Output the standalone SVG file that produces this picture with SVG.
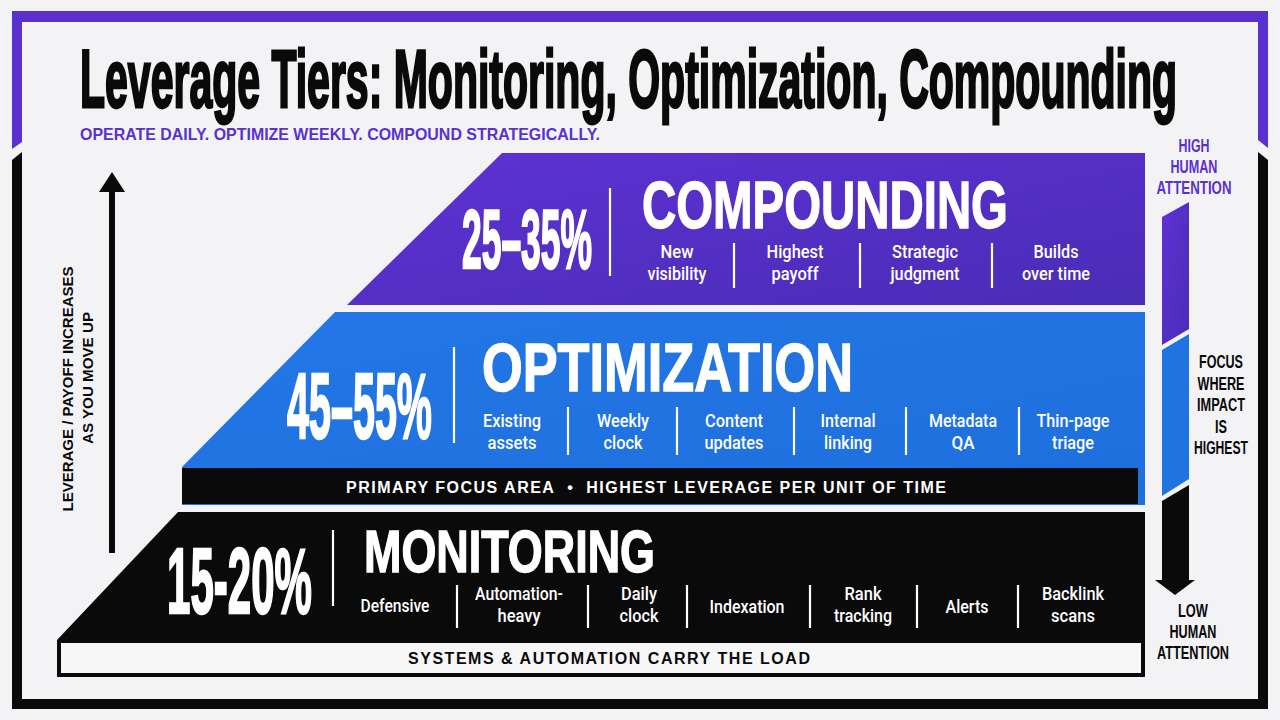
<svg xmlns="http://www.w3.org/2000/svg" width="1280" height="720" viewBox="0 0 1280 720">
  <defs>
    <linearGradient id="gPurple" x1="0" y1="0" x2="1" y2="1">
      <stop offset="0" stop-color="#5d32d4"/>
      <stop offset="1" stop-color="#4a2cb6"/>
    </linearGradient>
    <linearGradient id="gBlue" x1="0" y1="0" x2="1" y2="1">
      <stop offset="0" stop-color="#2377e6"/>
      <stop offset="1" stop-color="#1d6fdc"/>
    </linearGradient>
    <style>
      .title { font-family: "Liberation Sans", Arial, sans-serif; font-weight: 700; fill: #0a0a0a; stroke: #0a0a0a; stroke-width: 2.8; }
      .sub { font-family: "Liberation Sans", Arial, sans-serif; font-weight: 700; fill: #5a31cf; }
      .pct { font-family: "Liberation Sans", Arial, sans-serif; font-weight: 700; fill: #ffffff; stroke: #ffffff; stroke-width: 2.4; }
      .tier { font-family: "Liberation Sans", Arial, sans-serif; font-weight: 700; fill: #ffffff; stroke: #ffffff; stroke-width: 1.4; }
      .lbl { font-family: Roboto, "Liberation Sans", Arial, sans-serif; font-weight: 500; font-size: 18px; fill: #ffffff; text-anchor: middle; }
      .div { stroke: #ffffff; stroke-width: 2.2; }
      .band { font-family: "Liberation Sans", Arial, sans-serif; font-weight: 700; font-size: 16px; }
      .side { font-family: "Liberation Sans", Arial, sans-serif; font-weight: 700; font-size: 18px; text-anchor: middle; }
      .axis { font-family: "Liberation Sans", Arial, sans-serif; font-weight: 700; font-size: 15.5px; fill: #0a0a0a; text-anchor: middle; }
    </style>
  </defs>

  <rect width="1280" height="720" fill="#f3f3f5"/>

  <!-- frame -->
  <g id="frame">
    <rect x="12" y="11" width="1256" height="11" fill="#5a31cf"/>
    <polygon points="12,11 22,11 22,142 12,149" fill="#5a31cf"/>
    <polygon points="12,160 22,152 22,709 12,709" fill="#0a0a0a"/>
    <polygon points="1258,11 1268,11 1268,148 1258,140" fill="#5a31cf"/>
    <polygon points="1258,152 1268,160 1268,709 1258,709" fill="#0a0a0a"/>
    <rect x="12" y="699" width="1256" height="10" fill="#0a0a0a"/>
  </g>

  <g id="title">
    <text class="title" transform="scale(0.5,1)" x="160" y="107" font-size="82" textLength="2194" lengthAdjust="spacingAndGlyphs">Leverage Tiers: Monitoring, Optimization, Compounding</text>
    <text class="sub" x="80" y="140" font-size="16.5" textLength="520" lengthAdjust="spacingAndGlyphs">OPERATE DAILY. OPTIMIZE WEEKLY. COMPOUND STRATEGICALLY.</text>
  </g>

  <!-- Compounding tier -->
  <g id="tier-compounding">
    <polygon points="502,153 1145,153 1145,305 347,305" fill="url(#gPurple)"/>
    <text class="pct" transform="scale(0.4218,1)" x="1095.3" y="268" font-size="84" textLength="308.2" lengthAdjust="spacingAndGlyphs">25–35%</text>
    <line class="div" x1="610" y1="188" x2="610" y2="276"/>
    <text class="tier" transform="scale(0.7181,1)" x="894" y="228" font-size="66" textLength="509.7" lengthAdjust="spacingAndGlyphs">COMPOUNDING</text>
    <line class="div" x1="734" y1="243" x2="734" y2="288"/>
    <line class="div" x1="860" y1="243" x2="860" y2="288"/>
    <line class="div" x1="992" y1="243" x2="992" y2="288"/>
    <text class="lbl" x="677" y="258" textLength="33" lengthAdjust="spacingAndGlyphs">New</text>
    <text class="lbl" x="677" y="280" textLength="59" lengthAdjust="spacingAndGlyphs">visibility</text>
    <text class="lbl" x="795" y="258" textLength="57" lengthAdjust="spacingAndGlyphs">Highest</text>
    <text class="lbl" x="795" y="280" textLength="47" lengthAdjust="spacingAndGlyphs">payoff</text>
    <text class="lbl" x="925" y="258" textLength="66" lengthAdjust="spacingAndGlyphs">Strategic</text>
    <text class="lbl" x="925" y="280" textLength="69" lengthAdjust="spacingAndGlyphs">judgment</text>
    <text class="lbl" x="1056" y="258" textLength="45" lengthAdjust="spacingAndGlyphs">Builds</text>
    <text class="lbl" x="1056" y="280" textLength="68" lengthAdjust="spacingAndGlyphs">over time</text>
  </g>

  <!-- Optimization tier -->
  <g id="tier-optimization">
    <polygon points="335,312 1145,312 1145,505 182,505 182,467" fill="url(#gBlue)"/>
    <text class="pct" transform="scale(0.4296,1)" x="668.1" y="438" font-size="92" textLength="337.5" lengthAdjust="spacingAndGlyphs">45–55%</text>
    <line class="div" x1="454" y1="347" x2="454" y2="443"/>
    <text class="tier" transform="scale(0.7612,1)" x="633.2" y="391" font-size="68" textLength="487.4" lengthAdjust="spacingAndGlyphs">OPTIMIZATION</text>
    <line class="div" x1="568" y1="407" x2="568" y2="455"/>
    <line class="div" x1="677" y1="407" x2="677" y2="455"/>
    <line class="div" x1="794" y1="407" x2="794" y2="455"/>
    <line class="div" x1="906" y1="407" x2="906" y2="455"/>
    <line class="div" x1="1019" y1="407" x2="1019" y2="455"/>
    <text class="lbl" x="512" y="427" textLength="58" lengthAdjust="spacingAndGlyphs">Existing</text>
    <text class="lbl" x="512" y="449" textLength="49" lengthAdjust="spacingAndGlyphs">assets</text>
    <text class="lbl" x="623" y="427" textLength="52" lengthAdjust="spacingAndGlyphs">Weekly</text>
    <text class="lbl" x="623" y="449" textLength="39" lengthAdjust="spacingAndGlyphs">clock</text>
    <text class="lbl" x="734" y="427" textLength="58" lengthAdjust="spacingAndGlyphs">Content</text>
    <text class="lbl" x="734" y="449" textLength="59" lengthAdjust="spacingAndGlyphs">updates</text>
    <text class="lbl" x="848" y="427" textLength="55" lengthAdjust="spacingAndGlyphs">Internal</text>
    <text class="lbl" x="848" y="449" textLength="48" lengthAdjust="spacingAndGlyphs">linking</text>
    <text class="lbl" x="963" y="427" textLength="68" lengthAdjust="spacingAndGlyphs">Metadata</text>
    <text class="lbl" x="963" y="449" textLength="23" lengthAdjust="spacingAndGlyphs">QA</text>
    <text class="lbl" x="1073" y="427" textLength="73" lengthAdjust="spacingAndGlyphs">Thin-page</text>
    <text class="lbl" x="1073" y="449" textLength="42" lengthAdjust="spacingAndGlyphs">triage</text>
    <rect x="182" y="468" width="956" height="36" fill="#0a0a0a"/>
    <text class="band" x="346" y="493" fill="#ffffff" textLength="600">PRIMARY FOCUS AREA&#160;&#160;•&#160;&#160;HIGHEST LEVERAGE PER UNIT OF TIME</text>
  </g>

  <!-- Monitoring tier -->
  <g id="tier-monitoring">
    <polygon points="178,512 1145,512 1145,677 57,677 57,640" fill="#0a0a0a"/>
    <text class="pct" transform="scale(0.4574,1)" x="365.1" y="613" font-size="92" textLength="317" lengthAdjust="spacingAndGlyphs">15-20%</text>
    <line class="div" x1="333" y1="530" x2="333" y2="606"/>
    <text class="tier" transform="scale(0.7588,1)" x="479.7" y="572" font-size="59" textLength="383.5" lengthAdjust="spacingAndGlyphs">MONITORING</text>
    <line class="div" x1="457" y1="585" x2="457" y2="628"/>
    <line class="div" x1="588" y1="585" x2="588" y2="628"/>
    <line class="div" x1="687" y1="585" x2="687" y2="628"/>
    <line class="div" x1="810" y1="585" x2="810" y2="628"/>
    <line class="div" x1="917" y1="585" x2="917" y2="628"/>
    <line class="div" x1="1018" y1="585" x2="1018" y2="628"/>
    <text class="lbl" x="395" y="612" textLength="69" lengthAdjust="spacingAndGlyphs">Defensive</text>
    <text class="lbl" x="519" y="600" textLength="88" lengthAdjust="spacingAndGlyphs">Automation-</text>
    <text class="lbl" x="519" y="622" textLength="43" lengthAdjust="spacingAndGlyphs">heavy</text>
    <text class="lbl" x="639" y="600" textLength="36" lengthAdjust="spacingAndGlyphs">Daily</text>
    <text class="lbl" x="639" y="622" textLength="39" lengthAdjust="spacingAndGlyphs">clock</text>
    <text class="lbl" x="747" y="613" textLength="75" lengthAdjust="spacingAndGlyphs">Indexation</text>
    <text class="lbl" x="863" y="600" textLength="37" lengthAdjust="spacingAndGlyphs">Rank</text>
    <text class="lbl" x="863" y="622" textLength="58" lengthAdjust="spacingAndGlyphs">tracking</text>
    <text class="lbl" x="967" y="613" textLength="43" lengthAdjust="spacingAndGlyphs">Alerts</text>
    <text class="lbl" x="1073" y="600" textLength="62" lengthAdjust="spacingAndGlyphs">Backlink</text>
    <text class="lbl" x="1073" y="622" textLength="44" lengthAdjust="spacingAndGlyphs">scans</text>
    <rect x="61" y="643" width="1080" height="30" fill="#f7f7f8"/>
    <text class="band" x="408" y="664" fill="#0a0a0a" textLength="402">SYSTEMS &amp; AUTOMATION CARRY THE LOAD</text>
  </g>

  <!-- left axis label -->
  <g id="axis-label">
    <text class="axis" transform="translate(73,389) rotate(-90)" textLength="245" lengthAdjust="spacingAndGlyphs">LEVERAGE / PAYOFF INCREASES</text>
    <text class="axis" transform="translate(93,378) rotate(-90)" textLength="132" lengthAdjust="spacingAndGlyphs">AS YOU MOVE UP</text>
  </g>

  <!-- right attention scale -->
  <g id="attention-scale">
    <text class="side" fill="#5a31cf" x="1194" y="152" textLength="31" lengthAdjust="spacingAndGlyphs">HIGH</text>
    <text class="side" fill="#5a31cf" x="1194" y="173" textLength="47" lengthAdjust="spacingAndGlyphs">HUMAN</text>
    <text class="side" fill="#5a31cf" x="1194" y="194" textLength="75" lengthAdjust="spacingAndGlyphs">ATTENTION</text>
    <polygon points="1162,217 1189,202 1189,329 1162,345" fill="url(#gPurple)"/>
    <polygon points="1162,350 1189,334 1189,479 1162,496" fill="#1f74e2"/>
    <text class="side" fill="#0a0a0a" x="1221" y="368" textLength="44" lengthAdjust="spacingAndGlyphs">FOCUS</text>
    <text class="side" fill="#0a0a0a" x="1221" y="389.5" textLength="47" lengthAdjust="spacingAndGlyphs">WHERE</text>
    <text class="side" fill="#0a0a0a" x="1221" y="411" textLength="48" lengthAdjust="spacingAndGlyphs">IMPACT</text>
    <text class="side" fill="#0a0a0a" x="1221" y="432.5" textLength="12" lengthAdjust="spacingAndGlyphs">IS</text>
    <text class="side" fill="#0a0a0a" x="1221" y="454" textLength="54" lengthAdjust="spacingAndGlyphs">HIGHEST</text>
    <text class="side" fill="#0a0a0a" x="1193" y="617" textLength="30" lengthAdjust="spacingAndGlyphs">LOW</text>
    <text class="side" fill="#0a0a0a" x="1193" y="638" textLength="47" lengthAdjust="spacingAndGlyphs">HUMAN</text>
    <text class="side" fill="#0a0a0a" x="1193" y="659" textLength="72" lengthAdjust="spacingAndGlyphs">ATTENTION</text>
  </g>

  <!-- connectors -->
  <g id="connectors">
    <line x1="112" y1="553" x2="112" y2="188" stroke="#0a0a0a" stroke-width="6"/>
    <polygon points="112,172 125,192 99,192" fill="#0a0a0a"/>
    <polygon points="1162,501 1189,485 1189,580 1195,580 1175,595 1155,580 1162,580" fill="#0a0a0a"/>
  </g>
</svg>
